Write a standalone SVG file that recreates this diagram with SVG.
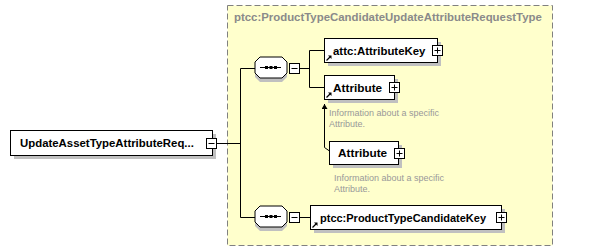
<svg xmlns="http://www.w3.org/2000/svg" width="595" height="251" viewBox="0 0 595 251">
  <style>
    .box { fill: #ffffff; stroke: #000000; stroke-width: 1; }
    .shadow { fill: #c0c0c0; stroke: none; }
    .btn { fill: #ffffff; stroke: #000000; stroke-width: 1; }
    .sign { stroke: #000000; stroke-width: 1; fill: none; }
    .wire { stroke: #000000; stroke-width: 1; fill: none; }
    .name { font-family: "Liberation Sans", Arial, sans-serif; font-weight: bold; font-size: 11px; fill: #000000; }
    .doc { font-family: "Liberation Sans", Arial, sans-serif; font-size: 9px; fill: #999999; }
    .title { font-family: "Liberation Sans", Arial, sans-serif; font-weight: bold; font-size: 11.4px; fill: #8a8a8a; }
  </style>
  <defs>
    <marker id="arrowUp" markerWidth="6" markerHeight="6" refX="3" refY="0" orient="0" markerUnits="userSpaceOnUse">
      <path d="M0,5 L3,0 L6,5 Z" fill="#000000"/>
    </marker>
    <!-- small reference arrow drawn in the lower-left corner of ref boxes -->
    <g id="refIcon">
      <path d="M0,5 L3.5,1.5" stroke="#000000" stroke-width="1.2" fill="none"/>
      <path d="M1.5,0 L5,0 L5,3.5 Z" fill="#000000"/>
    </g>
    <!-- sequence compositor octagon -->
    <g id="seq">
      <path d="M5,4 H27 L32,9 V20 L27,25 H5 L0,20 V9 Z" class="shadow"/>
      <path d="M5,0 H27 L32,5 V16 L27,21 H5 L0,16 V5 Z" fill="#ffffff" stroke="#000000"/>
      <line x1="5" y1="10.5" x2="26" y2="10.5" stroke="#000000"/>
      <rect x="10" y="9" width="3" height="3" fill="#000000"/>
      <rect x="14.5" y="9" width="3" height="3" fill="#000000"/>
      <rect x="19" y="9" width="3" height="3" fill="#000000"/>
      <rect x="34.5" y="6.5" width="10" height="10" class="btn"/>
      <line x1="36.5" y1="11.5" x2="42.5" y2="11.5" class="sign"/>
    </g>
  </defs>

  <!-- complex type container -->
  <g id="typeFrame">
    <rect x="227.5" y="5.5" width="325" height="240" fill="#ffffcc" stroke="#808080" stroke-width="1" stroke-dasharray="6,3"/>
    <text x="234" y="21" class="title">ptcc:ProductTypeCandidateUpdateAttributeRequestType</text>
  </g>

  <!-- connectors -->
  <g id="connectors">
    <path class="wire" d="M216.5,143.5 H240.5 M240.5,68.5 V217.5 M240.5,68.5 H255 M240.5,217.5 H255"/>
    <path class="wire" d="M299.5,68.5 H309.5 M309.5,50.5 V87.5 M309.5,50.5 H324 M309.5,87.5 H324"/>
    <path class="wire" d="M299.5,217.5 H310"/>
    <path class="wire" d="M324.5,147.5 V104" marker-end="url(#arrowUp)"/>
    <path class="wire" d="M324.5,147.5 L329.5,151"/>
  </g>

  <!-- root element -->
  <g id="rootElement">
    <rect x="14" y="134" width="202" height="25" class="shadow"/>
    <rect x="10.5" y="130.5" width="202" height="25" class="box"/>
    <text x="20" y="147" class="name" style="font-size:11.4px">UpdateAssetTypeAttributeReq...</text>
    <rect x="206.5" y="138.5" width="10" height="10" class="btn"/>
    <line x1="208.5" y1="143.5" x2="214.5" y2="143.5" class="sign"/>
  </g>

  <!-- sequence compositors -->
  <g id="sequenceTop">
    <use href="#seq" x="255" y="57"/>
  </g>
  <g id="sequenceBottom">
    <use href="#seq" x="255" y="206"/>
  </g>

  <!-- attc:AttributeKey -->
  <g id="attributeKey">
    <rect x="328" y="42" width="113" height="24" class="shadow"/>
    <rect x="324.5" y="38.5" width="113" height="24" class="box"/>
    <text x="333" y="55" class="name" style="font-size:11.4px">attc:AttributeKey</text>
    <use href="#refIcon" x="326.5" y="55.5"/>
    <rect x="432.5" y="45.5" width="10" height="10" class="btn"/>
    <path d="M434.5,50.5 H440.5 M437.5,47.5 V53.5" class="sign"/>
  </g>

  <!-- Attribute (reference) -->
  <g id="attributeRef">
    <rect x="328" y="79" width="70" height="24" class="shadow"/>
    <rect x="324.5" y="75.5" width="70" height="24" class="box"/>
    <text x="333" y="92" class="name" style="font-size:11.8px">Attribute</text>
    <use href="#refIcon" x="326.5" y="92.5"/>
    <rect x="389.5" y="82.5" width="10" height="10" class="btn"/>
    <path d="M391.5,87.5 H397.5 M394.5,84.5 V90.5" class="sign"/>
    <text x="329" y="116" class="doc">Information about a specific</text>
    <text x="329" y="127" class="doc">Attribute.</text>
  </g>

  <!-- Attribute (global definition) -->
  <g id="attributeDef">
    <rect x="333" y="145" width="69" height="23" class="shadow"/>
    <rect x="329.5" y="141.5" width="69" height="23" class="box"/>
    <text x="338" y="157" class="name" style="font-size:11.8px">Attribute</text>
    <rect x="394.5" y="148.5" width="10" height="10" class="btn"/>
    <path d="M396.5,153.5 H402.5 M399.5,150.5 V156.5" class="sign"/>
    <text x="334" y="181" class="doc">Information about a specific</text>
    <text x="334" y="192" class="doc">Attribute.</text>
  </g>

  <!-- ptcc:ProductTypeCandidateKey -->
  <g id="productTypeCandidateKey">
    <rect x="314" y="209" width="191" height="24" class="shadow"/>
    <rect x="310.5" y="205.5" width="191" height="24" class="box"/>
    <text x="320" y="222" class="name">ptcc:ProductTypeCandidateKey</text>
    <use href="#refIcon" x="312.5" y="222.5"/>
    <rect x="496.5" y="212.5" width="10" height="10" class="btn"/>
    <path d="M498.5,217.5 H504.5 M501.5,214.5 V220.5" class="sign"/>
  </g>
</svg>
